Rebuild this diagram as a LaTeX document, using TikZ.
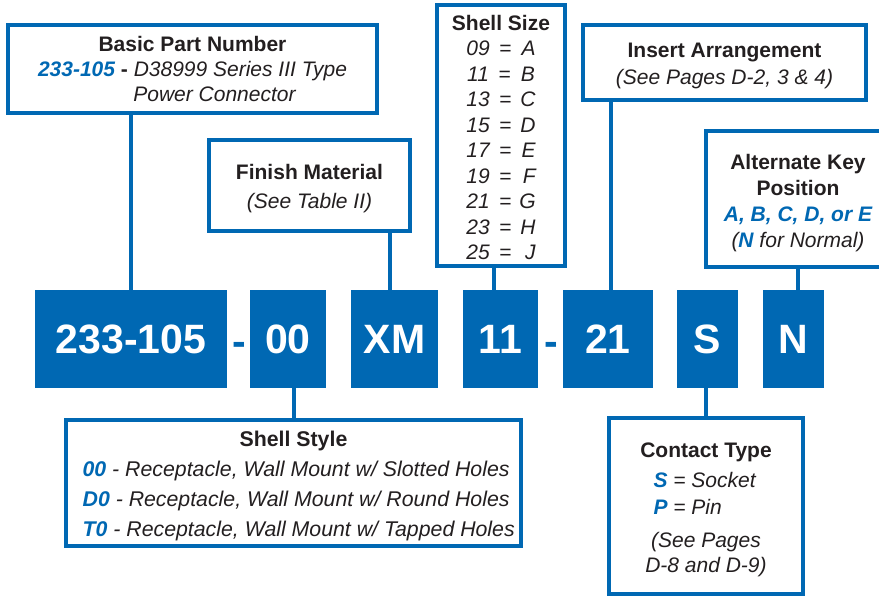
\documentclass[tikz,border=0pt]{standalone}
\usepackage{fontspec}
\setmainfont{Liberation Sans}
\definecolor{partblue}{HTML}{0068B3}
\definecolor{ink}{HTML}{231F20}
\newcommand{\heading}[1]{\textup{\textbf{#1}}}
\newcommand{\code}[1]{{\color{partblue}\bfseries\itshape #1}}
\newcommand{\topgap}[1]{\rule{0pt}{#1}}
\newcommand{\sizerow}[2]{#1\hspace{0.45em}=\hspace{0.45em}\makebox[0.7em][r]{#2}}
\newcommand{\stylerow}[2]{\makebox[19.8em][l]{\code{#1} - Receptacle, Wall Mount w/ #2 Holes}}
\begin{document}
\begin{tikzpicture}
		    [x=1pt,y=-1pt,%%%%%%%%%%%%%%%%%%%%%%%%%%%%%%
		        partbox/.style={rectangle,fill=partblue,text=white,inner sep=0pt,minimum height=98pt,font=\fontsize{41}{41}\selectfont\bfseries},
		        sep/.style={text=partblue,inner sep=0pt,anchor=base,font=\fontsize{41}{41}\selectfont\bfseries},
		        infobox/.style={rectangle,draw=partblue,line width=4pt,fill=white,text=ink,align=center,inner sep=0pt,font=\fontsize{21}{27}\selectfont\itshape},
		        wire/.style={draw=partblue,line width=4pt},
		    ]%%%%%%%%%%%%%%%%%%%%%%%%%%%%%%
		\useasboundingbox (0,0) rectangle (879,597);

		\node[partbox, minimum width=192pt] (pn) at (131,339) {233-105};
		\node[sep] (d1) at (239,355) {-};
		\node[partbox, minimum width=76pt] (s00) at (288,339) {00};
		\node[partbox, minimum width=87pt] (xm) at (394.5,339) {XM};
		\node[partbox, minimum width=75pt] (s11) at (500.5,339) {11};
		\node[sep] (d2) at (551,355) {-};
		\node[partbox, minimum width=90pt] (s21) at (608,339) {21};
		\node[partbox, minimum width=61pt] (sk) at (707.5,339) {S};
		\node[partbox, minimum width=61pt] (nk) at (793.5,339) {N};

		\node[infobox, minimum width=369pt, minimum height=88pt, font=\fontsize{21}{25}\selectfont\itshape] (bpn) at (192.5,69)
			{\heading{Basic Part Number}\\ \code{233-105} \textup{\textbf{-}} D38999 Series III Type\\ \hspace*{44pt}Power Connector};
		\node[infobox, minimum width=201pt, minimum height=91pt, font=\fontsize{21}{29}\selectfont\itshape] (fin) at (309.5,185.5)
			{\topgap{21pt}\heading{Finish Material}\\ (See Table II)};
		\node[infobox, minimum width=128pt, minimum height=261pt, font=\fontsize{21}{25.5}\selectfont\itshape] (size) at (501,135.5)
			{\topgap{19pt}\heading{Shell Size}\\ \sizerow{09}{A}\\ \sizerow{11}{B}\\ \sizerow{13}{C}\\ \sizerow{15}{D}\\ \sizerow{17}{E}\\ \sizerow{19}{F}\\ \sizerow{21}{G}\\ \sizerow{23}{H}\\ \sizerow{25}{J}};
		\node[infobox, minimum width=283pt, minimum height=75pt] (ins) at (724.5,62.5)
			{\topgap{21pt}\heading{Insert Arrangement}\\ (See Pages D-2, 3 \& 4)};
		\node[infobox, minimum width=184pt, minimum height=136pt, font=\fontsize{21}{26}\selectfont\itshape] (key) at (798,199)
			{\topgap{23pt}\heading{Alternate Key}\\ \heading{Position}\\ \code{A, B, C, D, or E}\\ (\code{N} for Normal)};

		\node[infobox, minimum width=455pt, minimum height=126pt, font=\fontsize{21.3}{30}\selectfont\itshape] (style) at (293.5,483)
			{\topgap{21pt}\heading{Shell Style}\\ \stylerow{00}{Slotted}\\ \stylerow{D0}{Round}\\ \stylerow{T0}{Tapped}};
		\node[infobox, minimum width=194pt, minimum height=176pt] (contact) at (706,506)
			{\topgap{23pt}\heading{Contact Type}\\[3pt] \makebox[5em][l]{\code{S} = Socket}\\ \makebox[5em][l]{\code{P} = Pin}\\[6pt] (See Pages\\[-2pt] D-8 and D-9)};

		\draw[wire] (bpn.south -| pn.north) -- (pn.north);
		\draw[wire] ([xshift=-22pt]fin.south east) -- ([xshift=-22pt]fin.south east |- xm.north);
		\draw[wire] ([xshift=-7pt]size.south) -- ([xshift=-7pt]size.south |- s11.north);
		\draw[wire] ([xshift=30pt]ins.south west) -- ([xshift=30pt]ins.south west |- s21.north);
		\draw[wire] (key.south) -- (key.south |- nk.north);
		\draw[wire] (style.north) -- (style.north |- s00.south);
		\draw[wire] (contact.north) -- (contact.north |- sk.south);

		\end{tikzpicture}
\end{document}
